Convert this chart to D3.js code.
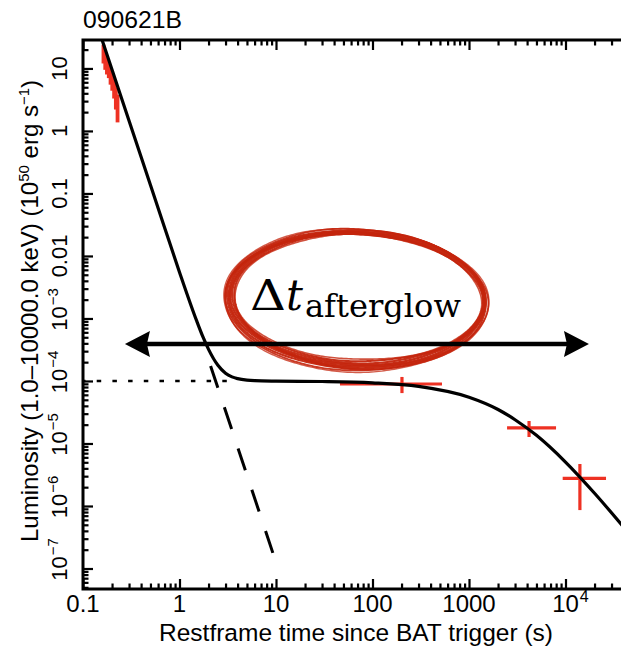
<!DOCTYPE html>
<html><head><meta charset="utf-8">
<script src="https://cdn.jsdelivr.net/npm/d3@7"></script>
<style>html,body{margin:0;padding:0;background:#fff;} svg{display:block}</style>
</head><body>
<svg id="chart" width="621" height="652"></svg>
<script>
// ---------------- data ----------------
const chartTitle = "090621B";
const xTitle = "Restframe time since BAT trigger (s)";
const xTickValues = [0.1, 1, 10, 100, 1000, 1e4];
const xTickLabels = ["0.1", "1", "10", "100", "1000", "10^4"];
const yTickValues = [1e-7, 1e-6, 1e-5, 1e-4, 1e-3, 0.01, 0.1, 1, 10];
const yTickLabels = ["10^−7", "10^−6", "10^−5", "10^−4", "10^−3", "0.01", "0.1", "1", "10"];

// best-fit model (solid): steep decay + plateau
const modelT = [0.15, 0.2, 0.3, 0.5, 0.7, 1, 1.5, 1.75, 2, 2.5, 3, 3.5, 4, 5, 6, 10, 30, 100, 300, 1000, 2000, 3000, 5000, 1e4, 2e4, 4e4];
const modelL = [36, 9.5, 1.46, 0.136, 0.0286, 5.5e-3, 9.3e-4, 5.06e-4, 3.2e-4, 1.78e-4, 1.33e-4, 1.163e-4, 1.09e-4, 1.03e-4, 1.01e-4, 9.93e-5, 9.8e-5, 9.34e-5, 8.2e-5, 5.5e-5, 3.5e-5, 2.4e-5, 1.35e-5, 5.05e-6, 1.6e-6, 4.6e-7];
// steep component (dashed)
const steepT = [2.1, 10.5];
const steepL = [1.74e-4, 1.0e-7];
// plateau component (dotted)
const plateauT = [0.1, 4];
const plateauL = [1e-4, 1e-4];

// BAT data (red)
const batT   = [0.163, 0.170, 0.177, 0.185, 0.193, 0.201, 0.210, 0.219, 0.228];
const batTlo = [0.1595, 0.1665, 0.1735, 0.181, 0.189, 0.197, 0.2055, 0.2145, 0.2235];
const batThi = [0.1665, 0.1735, 0.181, 0.189, 0.197, 0.2055, 0.2145, 0.2235, 0.2325];
const batL   = [17, 13, 11, 9.5, 7.5, 6, 4.8, 3.5, 2.5];
const batLlo = [12, 9.5, 8, 7, 5.5, 4.4, 3.3, 2.2, 1.37];
const batLhi = [24, 18, 15, 12, 10, 8, 6.5, 5, 3.8];

// XRT data (red)
const xrtT   = [202, 4190, 14100];
const xrtTlo = [46, 2480, 9350];
const xrtThi = [525, 7980, 26300];
const xrtL   = [8.95e-5, 1.78e-5, 2.77e-6];
const xrtLlo = [6.4e-5, 1.27e-5, 8.6e-7];
const xrtLhi = [1.16e-4, 2.29e-5, 4.7e-6];

// annotation (data space)
const arrowT = [0.272, 17500];
const arrowL = 3.9e-4;
const ellipseT = 69;
const ellipseL = 2.05e-3;

// ---------------- layout ----------------
const plot = {left: 83, right: 623.6, top: 40, bottom: 589};
const FONT = "'Liberation Sans', Arial, Helvetica, sans-serif";
const SERIF = "'DejaVu Serif', 'Liberation Serif', serif";
const RED = "#ee3123";

const x = d3.scaleLog().domain([0.1, 4e4]).range([plot.left, plot.right]);
const y = d3.scaleLog().domain([4.7e-8, 28.5]).range([plot.bottom, plot.top]);

const svg = d3.select("#chart");
svg.append("defs").append("clipPath").attr("id", "clip").append("rect")
  .attr("x", plot.left).attr("y", plot.top)
  .attr("width", plot.right - plot.left).attr("height", plot.bottom - plot.top);

const g = svg.append("g").attr("clip-path", "url(#clip)");
const line = d3.line().x(d => x(d[0])).y(d => y(d[1]));

// ---------------- data marks ----------------
function crosses(T, Tlo, Thi, L, Llo, Lhi, wv) {
  const gg = g.append("g").attr("stroke", RED).attr("fill", "none");
  T.forEach((t, i) => {
    gg.append("line").attr("stroke-width", 3.2).attr("x1", x(Tlo[i])).attr("x2", x(Thi[i])).attr("y1", y(L[i])).attr("y2", y(L[i]));
    gg.append("line").attr("stroke-width", wv).attr("x1", x(t)).attr("x2", x(t)).attr("y1", y(Llo[i])).attr("y2", y(Lhi[i]));
  });
}
crosses(batT, batTlo, batThi, batL, batLlo, batLhi, 3.8);
crosses(xrtT, xrtTlo, xrtThi, xrtL, xrtLlo, xrtLhi, 3.2);

g.append("path").datum(d3.zip(plateauT, plateauL)).attr("d", line)
  .attr("fill", "none").attr("stroke", "#000").attr("stroke-width", 2.6)
  .attr("stroke-dasharray", "4.5,11.2").attr("stroke-dashoffset", 2);

g.append("path").datum(d3.zip(steepT, steepL)).attr("d", line)
  .attr("fill", "none").attr("stroke", "#000").attr("stroke-width", 3)
  .attr("stroke-dasharray", "23,20.5");

g.append("path").datum(d3.zip(modelT, modelL)).attr("d", line.curve(d3.curveMonotoneX))
  .attr("fill", "none").attr("stroke", "#000").attr("stroke-width", 3.2)
  .attr("stroke-linejoin", "round");

// ---------------- axes ----------------
const allX = x.ticks(), allY = y.ticks();
const isMajor = v => Math.abs(Math.log10(v) - Math.round(Math.log10(v))) < 1e-6;
const minorX = allX.filter(v => !isMajor(v)), majorX = allX.filter(isMajor);
const minorY = allY.filter(v => !isMajor(v)), majorY = allY.filter(isMajor);

function drawAxis(gen, scale, tx, ty, vals, len) {
  const a = svg.append("g").attr("transform", `translate(${tx},${ty})`)
    .call(gen(scale).tickValues(vals).tickSizeInner(-len).tickSizeOuter(0).tickFormat(""));
  a.select(".domain").remove();
  a.selectAll(".tick line").attr("stroke", "#000").attr("stroke-width", 2.2);
}
drawAxis(d3.axisBottom, x, 0, plot.bottom, minorX, 5.5);
drawAxis(d3.axisBottom, x, 0, plot.bottom, majorX, 10);
drawAxis(d3.axisTop, x, 0, plot.top, minorX, 5.5);
drawAxis(d3.axisTop, x, 0, plot.top, majorX, 10);
drawAxis(d3.axisLeft, y, plot.left, 0, minorY, 5.5);
drawAxis(d3.axisLeft, y, plot.left, 0, majorY, 10);

svg.append("path")
  .attr("d", `M${plot.right},${plot.top}H${plot.left}V${plot.bottom}H${plot.right}`)
  .attr("fill", "none").attr("stroke", "#000").attr("stroke-width", 3)
  .attr("stroke-linejoin", "miter");

// tick labels
function label(parent, str, fs, efs, ey) {
  const [base, exp] = str.split("^");
  const t = parent.append("text").attr("text-anchor", "middle")
    .attr("font-family", FONT).attr("font-size", fs).attr("fill", "#000").text(base);
  if (exp) {
    const w = t.node().getComputedTextLength();
    parent.append("text").attr("x", w / 2 + 1).attr("y", ey)
      .attr("font-family", FONT).attr("font-size", efs).attr("fill", "#000").text(exp);
  }
}
xTickValues.forEach((v, i) => {
  label(svg.append("g").attr("transform", `translate(${x(v)},612)`), xTickLabels[i], 24, 16, -10);
});
yTickValues.forEach((v, i) => {
  label(svg.append("g").attr("transform", `translate(67,${y(v)}) rotate(-90)`), yTickLabels[i], 22, 15, -9);
});

// titles
svg.append("text").attr("x", plot.left).attr("y", 28)
  .attr("font-family", FONT).attr("font-size", 24).attr("fill", "#000")
  .attr("textLength", 99).attr("lengthAdjust", "spacingAndGlyphs").text(chartTitle);

svg.append("text").attr("x", 356).attr("y", 641).attr("text-anchor", "middle")
  .attr("font-family", FONT).attr("font-size", 24.5).attr("fill", "#000").text(xTitle);

const yt = svg.append("text").attr("transform", "translate(38,311) rotate(-90)")
  .attr("text-anchor", "middle").attr("font-family", FONT).attr("font-size", 24).attr("fill", "#000");
yt.append("tspan").text("Luminosity (1.0–10000.0 keV) (10");
yt.append("tspan").attr("font-size", 15).attr("dy", -9).text("50");
yt.append("tspan").attr("dy", 9).text(" erg s");
yt.append("tspan").attr("font-size", 15).attr("dy", -9).text("−1");
yt.append("tspan").attr("dy", 9).text(")");

// ---------------- annotation ----------------
const cx = x(ellipseT), cy = y(ellipseL);
const RX = 128, RY = 67, ROT = 2 * Math.PI / 180;
const ell = svg.append("g");
const brush = [
  {d: -4.6, w: 1.6, o: 0.8, p: 0.3},
  {d: -3.5, w: 2.0, o: 0.95, p: 1.1},
  {d: -2.3, w: 2.2, o: 0.95, p: 2.0},
  {d: -1.1, w: 2.4, o: 0.97, p: 2.7},
  {d: 0.1, w: 2.4, o: 0.97, p: 3.6},
  {d: 1.3, w: 2.2, o: 0.95, p: 4.4},
  {d: 2.5, w: 2.0, o: 0.95, p: 5.2},
  {d: 3.6, w: 1.8, o: 0.9, p: 0.9},
  {d: 4.6, w: 1.4, o: 0.75, p: 1.7}
];
brush.forEach(b => {
  const pts = [];
  for (let k = 0; k <= 345; k++) {
    const th = k / 320 * 2 * Math.PI - 0.4;
    const spread = 1 + 0.4 * Math.cos(th - 2.2);
    const dd = b.d * spread + 0.6 * Math.sin(3 * th + b.p) + 0.35 * Math.sin(7 * th + 2 * b.p);
    const px = (RX + dd) * Math.cos(th), py = (RY + dd) * Math.sin(th);
    pts.push([cx + px * Math.cos(ROT) - py * Math.sin(ROT), cy + px * Math.sin(ROT) + py * Math.cos(ROT)]);
  }
  ell.append("path").attr("d", d3.line()(pts)).attr("fill", "none")
    .attr("stroke", "#c4250d").attr("stroke-width", b.w).attr("stroke-opacity", b.o)
    .attr("stroke-linecap", "round");
});

// label
svg.append("text").attr("x", cx - 107).attr("y", cy + 11)
  .attr("font-family", SERIF).attr("font-size", 42).attr("fill", "#000")
  .attr("textLength", 36).attr("lengthAdjust", "spacingAndGlyphs").text("Δ");
svg.append("text").attr("x", cx - 71).attr("y", cy + 11)
  .attr("font-family", SERIF).attr("font-style", "italic").attr("font-size", 42).attr("fill", "#000").text("t");
svg.append("text").attr("x", cx - 52).attr("y", cy + 18)
  .attr("font-family", SERIF).attr("font-size", 31).attr("fill", "#000")
  .attr("textLength", 156).attr("lengthAdjust", "spacingAndGlyphs").text("afterglow");

// double arrow
const ax1 = x(arrowT[0]), ax2 = x(arrowT[1]), ay = y(arrowL);
const AH = 25, AW = 13;
svg.append("line").attr("x1", ax1 + 15).attr("x2", ax2 - 15).attr("y1", ay).attr("y2", ay)
  .attr("stroke", "#000").attr("stroke-width", 4.5);
svg.append("path").attr("d", `M${ax1},${ay}L${ax1 + AH},${ay - AW}L${ax1 + AH - 3},${ay}L${ax1 + AH},${ay + AW}Z`).attr("fill", "#000");
svg.append("path").attr("d", `M${ax2},${ay}L${ax2 - AH},${ay - AW}L${ax2 - AH + 3},${ay}L${ax2 - AH},${ay + AW}Z`).attr("fill", "#000");
</script>
</body></html>
